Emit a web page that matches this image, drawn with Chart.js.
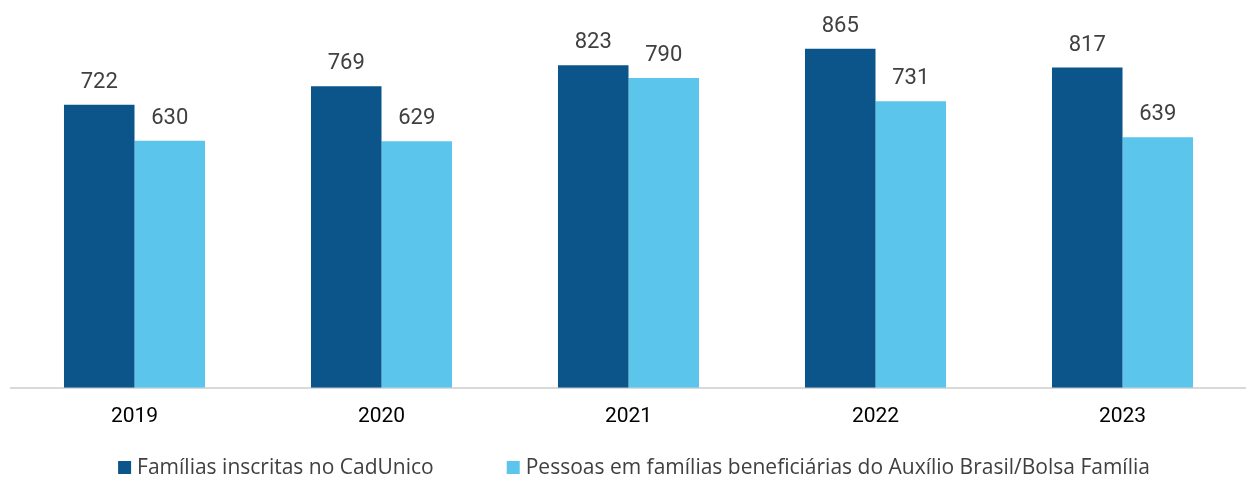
<!DOCTYPE html>
<html><head><meta charset="utf-8">
<script src="https://cdn.jsdelivr.net/npm/chart.js@4.4.1/dist/chart.umd.min.js"></script>
<style>html,body{margin:0;padding:0;background:#fff}#wrap{width:1246px;height:478px}</style>
</head><body><div id="wrap"><canvas id="c" width="1246" height="478"></canvas></div>
<script>
const categories = ['2019', '2020', '2021', '2022', '2023'];
const seriesNames = ['Famílias inscritas no CadUnico', 'Pessoas em famílias beneficiárias do Auxílio Brasil/Bolsa Família'];
const familias = [722, 769, 823, 865, 817];
const pessoas = [630, 629, 790, 731, 639];
const colors = ['#0B558A', '#5BC5EB'];

const valueLabels = {
  id: 'valueLabels',
  afterDatasetsDraw(chart) {
    const ctx = chart.ctx;
    ctx.save();
    ctx.font = '22px Roboto';
    ctx.fillStyle = '#404040';
    ctx.textAlign = 'center';
    ctx.textBaseline = 'alphabetic';
    chart.data.datasets.forEach((ds, i) => {
      chart.getDatasetMeta(i).data.forEach((bar, j) => {
        ctx.fillText(String(ds.data[j]), bar.x, bar.y - 17);
      });
    });
    ctx.restore();
  }
};

const bottomLegend = {
  id: 'bottomLegend',
  afterDraw(chart) {
    const ctx = chart.ctx;
    ctx.save();
    ctx.font = '21px "Open Sans"';
    ctx.textBaseline = 'alphabetic';
    ctx.textAlign = 'left';
    const box = 13, boxGap = 6, itemGap = 73;
    const items = chart.data.datasets.map(ds => ({ text: ds.label, color: ds.backgroundColor, w: ctx.measureText(ds.label).width }));
    let total = 0;
    items.forEach((it, i) => { total += box + boxGap + it.w + (i < items.length - 1 ? itemGap : 0); });
    let x = 634 - total / 2;
    const yBoxTop = 461, baseline = 474;
    items.forEach(it => {
      ctx.fillStyle = it.color;
      ctx.fillRect(x, yBoxTop, box, box);
      ctx.fillStyle = '#404040';
      ctx.fillText(it.text, x + box + boxGap, baseline);
      x += box + boxGap + it.w + itemGap;
    });
    ctx.restore();
  }
};

new Chart(document.getElementById('c'), {
  type: 'bar',
  data: {
    labels: categories,
    datasets: [
      { label: seriesNames[0], data: familias, backgroundColor: colors[0] },
      { label: seriesNames[1], data: pessoas, backgroundColor: colors[1] }
    ]
  },
  options: {
    responsive: false,
    animation: false,
    layout: { padding: { left: 11, right: 0, top: 35, bottom: 33 } },
    datasets: { bar: { categoryPercentage: 0.571, barPercentage: 1 } },
    plugins: {
      legend: { display: false },
      tooltip: { enabled: false }
    },
    scales: {
      x: {
        grid: { display: false, drawTicks: false },
        border: { display: true, color: '#d9d9d9', width: 2 },
        ticks: { color: '#000', font: { family: 'Roboto', size: 21 }, padding: 16 }
      },
      y: { display: false, min: 0, max: 900 }
    }
  },
  plugins: [valueLabels, bottomLegend]
});
</script></body></html>
